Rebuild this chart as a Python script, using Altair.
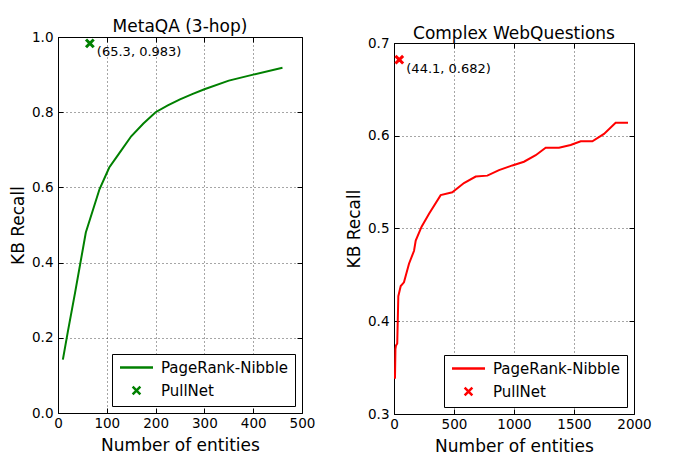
import altair as alt
import pandas as pd

# ---------------- data ----------------
series = ["PageRank-Nibble", "PullNet"]

meta_x = [10, 20, 35, 57, 85, 105, 125, 150, 175, 200, 225, 250, 275, 300, 350, 400, 460]
meta_y = [0.142, 0.215, 0.32, 0.48, 0.595, 0.653, 0.69, 0.736, 0.77, 0.80, 0.818, 0.834,
          0.848, 0.861, 0.884, 0.90, 0.918]
meta_pull = [65.3, 0.983]

cwq_x = [8, 12, 17, 27, 36, 56, 83, 125, 167, 181, 230, 292, 389, 486, 583, 681, 778, 875,
         986, 1083, 1181, 1264, 1375, 1472, 1556, 1653, 1750, 1847, 1950]
cwq_y = [0.338, 0.37, 0.374, 0.376, 0.427, 0.438, 0.442, 0.462, 0.476, 0.487, 0.502, 0.516,
         0.536, 0.539, 0.549, 0.556, 0.557, 0.563, 0.568, 0.572, 0.579, 0.587, 0.587, 0.590,
         0.594, 0.594, 0.602, 0.614, 0.614]
cwq_pull = [44.1, 0.682]

meta_xticks = [0, 100, 200, 300, 400, 500]
meta_yticks = [0.0, 0.2, 0.4, 0.6, 0.8, 1.0]
cwq_xticks = [0, 500, 1000, 1500, 2000]
cwq_yticks = [0.3, 0.4, 0.5, 0.6, 0.7]

FONT = "DejaVu Sans"
LINE_PATH = "M-3,0H3"
X_PATH = "M-0.7,-0.7L0.7,0.7M-0.7,0.7L0.7,-0.7"


def tick_axis(orient, offset, vals):
    return alt.Axis(orient=orient, offset=offset, values=vals, labels=False, domain=False,
                    grid=False, ticks=True, tickSize=5, tickColor="black", tickWidth=1,
                    title=None)


def panel(title, xs, ys, pull, color, xdom, ydom, xticks, yticks, W, H, toff):
    line_df = pd.DataFrame({"x": xs, "y": ys})
    pt_df = pd.DataFrame({"x": [pull[0]], "y": [pull[1]], "series": ["PullNet"],
                          "label": [f"({pull[0]}, {pull[1]})"]})
    xscale = alt.Scale(domain=xdom, nice=False, zero=False)
    yscale = alt.Scale(domain=ydom, nice=False, zero=False)
    main_x = alt.Axis(orient="bottom", values=xticks, grid=True, ticks=False, domain=False,
                      labelFlush=False, labelPadding=3, format="d",
                      title="Number of entities", titlePadding=8)
    main_y = alt.Axis(orient="left", values=yticks, grid=True, ticks=False, domain=False,
                      labelFlush=False, labelPadding=5, format=".1f",
                      title="KB Recall", titlePadding=4)
    line = alt.Chart(line_df).mark_line(color=color, strokeWidth=2).encode(
        x=alt.X("x:Q", scale=xscale, axis=main_x),
        y=alt.Y("y:Q", scale=yscale, axis=main_y),
    )
    pts = alt.Chart(pt_df).mark_point(filled=False, color=color, strokeWidth=3, size=121,
                                      opacity=1).encode(
        x=alt.X("x:Q", scale=xscale, axis=tick_axis("top", -H, xticks)),
        y=alt.Y("y:Q", scale=yscale, axis=tick_axis("right", -W, yticks)),
        shape=alt.Shape("series:N",
                        scale=alt.Scale(domain=series, range=[LINE_PATH, X_PATH]),
                        legend=alt.Legend(orient="bottom-right", offset=7, title=None,
                                          strokeColor="black", fillColor="white",
                                          padding=6, cornerRadius=0,
                                          labelFontSize=15, labelFont=FONT,
                                          labelColor="black", symbolStrokeWidth=2.5,
                                          symbolSize=121, symbolOffset=11,
                                          labelOffset=17, rowPadding=5,
                                          symbolStrokeColor=color,
                                          symbolFillColor="transparent")),
    )
    txt = alt.Chart(pt_df).mark_text(align="left", baseline="middle", dx=7, dy=9,
                                     fontSize=13, font=FONT, color="black").encode(
        x=alt.X("x:Q", scale=xscale, axis=tick_axis("bottom", -H, xticks)),
        y=alt.Y("y:Q", scale=yscale, axis=tick_axis("left", -W, yticks)),
        text="label:N",
    )
    return alt.layer(line, pts, txt).resolve_axis(
        x="independent", y="independent"
    ).resolve_legend(shape="independent").properties(
        width=W, height=H,
        title=alt.TitleParams(title, fontSize=17, font=FONT, fontWeight="normal",
                              color="black", offset=toff),
    )


left = panel("MetaQA (3-hop)", meta_x, meta_y, meta_pull, "#008000", [0, 500], [0, 1],
             meta_xticks, meta_yticks, 244, 376, -6)
right_panel = panel("Complex WebQuestions", cwq_x, cwq_y, cwq_pull, "#ff0000", [0, 2000],
                    [0.3, 0.7], cwq_xticks, cwq_yticks, 240, 371, -7)

# invisible spacer that lowers the right panel a little (the reference panels are offset)
spacer = alt.Chart(pd.DataFrame({"s": [0]})).mark_point(opacity=0).encode(
    x=alt.value(0), y=alt.value(0)
).properties(width=240, height=1, view=alt.ViewBackground(stroke="transparent"))

right = alt.vconcat(spacer, right_panel, spacing=5, bounds="flush").resolve_scale(
    shape="independent", x="independent", y="independent"
).resolve_legend(shape="independent")

chart = alt.hconcat(left, right, spacing=29).resolve_scale(
    shape="independent", x="independent", y="independent"
).resolve_legend(shape="independent").properties(
    padding={"left": 1, "top": 9, "right": 5, "bottom": 5},
    background="white",
).configure_view(stroke="black", strokeWidth=1).configure_axis(
    gridColor="black", gridDash=[1, 3], gridOpacity=0.7, gridWidth=1,
    labelColor="black", titleColor="black", labelFont=FONT, titleFont=FONT,
    labelFontSize=13.5, titleFontSize=17, titleFontWeight="normal",
)

chart.save("out.html", embed_options={"renderer": "svg", "actions": False})
